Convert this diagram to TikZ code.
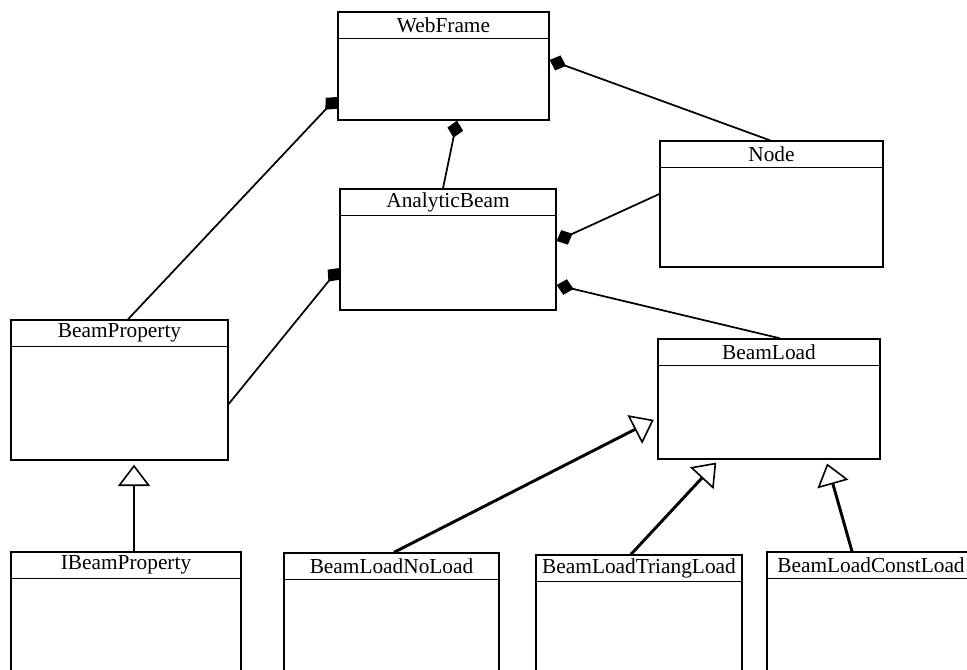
\documentclass[tikz,border=0pt]{standalone}
\usepackage{fontspec}
\setmainfont{Liberation Serif}
\usetikzlibrary{arrows.meta,fit}

\tikzset{
	classbox/.style={draw, line width=1pt, inner sep=0pt},
	classtitle/.style={anchor=north, minimum height=20pt, inner sep=0pt, font=\fontsize{16}{18}\selectfont},
	boxline/.style={line width=1pt},
	assoc/.style={line width=1.3pt, -{Diamond[length=13pt,width=12pt]}},
	inherit/.style={line width=2.2pt, -{Triangle[open,length=16pt,width=24pt,line width=1.2pt]}, shorten >=3pt}
}

% class box: name, corner, corner, title
\newcommand{\umlclass}[4]{%
	\coordinate (#1-a) at (#2);
	\coordinate (#1-b) at (#3);
	\node[classbox, fit=(#1-a)(#1-b)] (#1) {};
	\node[classtitle] (#1-title) at (#1.north) {#4};
	\draw[boxline] (#1.west |- #1-title.south) -- (#1.east |- #1-title.south);
}

\begin{document}
\begin{tikzpicture}[x=0.75pt, y=-0.75pt]
	\useasboundingbox (0,0) rectangle (967,670);
	\clip (0,0) rectangle (967,670);

	% Classes
	\umlclass{webframe}{338,12}{549,120}{WebFrame}
	\umlclass{node}{660,141}{883,267}{Node}
	\umlclass{analyticbeam}{340,189}{556,310}{AnalyticBeam}
	\umlclass{beamproperty}{11,320}{228,460}{BeamProperty}
	\umlclass{beamload}{658,339}{880,459}{BeamLoad}
	\umlclass{ibeamproperty}{11,552}{241,690}{IBeamProperty}
	\umlclass{noload}{284,553}{499,690}{BeamLoadNoLoad}
	\umlclass{triangload}{536,555}{742,690}{BeamLoadTriangLoad}
	\umlclass{constload}{767,552}{975,690}{BeamLoadConstLoad}

	% Aggregations
	\draw[assoc] (beamproperty.north -| 128,0) -- (webframe.west |- 0,97);
	\draw[assoc] (analyticbeam.north -| 443,0) -- (webframe.south -| 457,0);
	\draw[assoc] (node.north -| 770,0) -- (webframe.east |- 0,60);
	\draw[assoc] (node.west |- 0,194) -- (analyticbeam.east |- 0,241);
	\draw[assoc] (beamload.north -| 780,0) -- (analyticbeam.east |- 0,285);
	\draw[assoc] (beamproperty.east |- 0,404) -- (analyticbeam.west |- 0,268);

	% Generalizations
	\draw[inherit] (ibeamproperty.north -| 134,0) -- (beamproperty.south -| 134,0);
	\draw[inherit] (noload.north -| 394,0) -- (beamload.west |- 0,418);
	\draw[inherit] (triangload.north -| 631,0) -- (beamload.south -| 719,0);
	\draw[inherit] (constload.north -| 852,0) -- (beamload.south -| 826,0);

\end{tikzpicture}
\end{document}
